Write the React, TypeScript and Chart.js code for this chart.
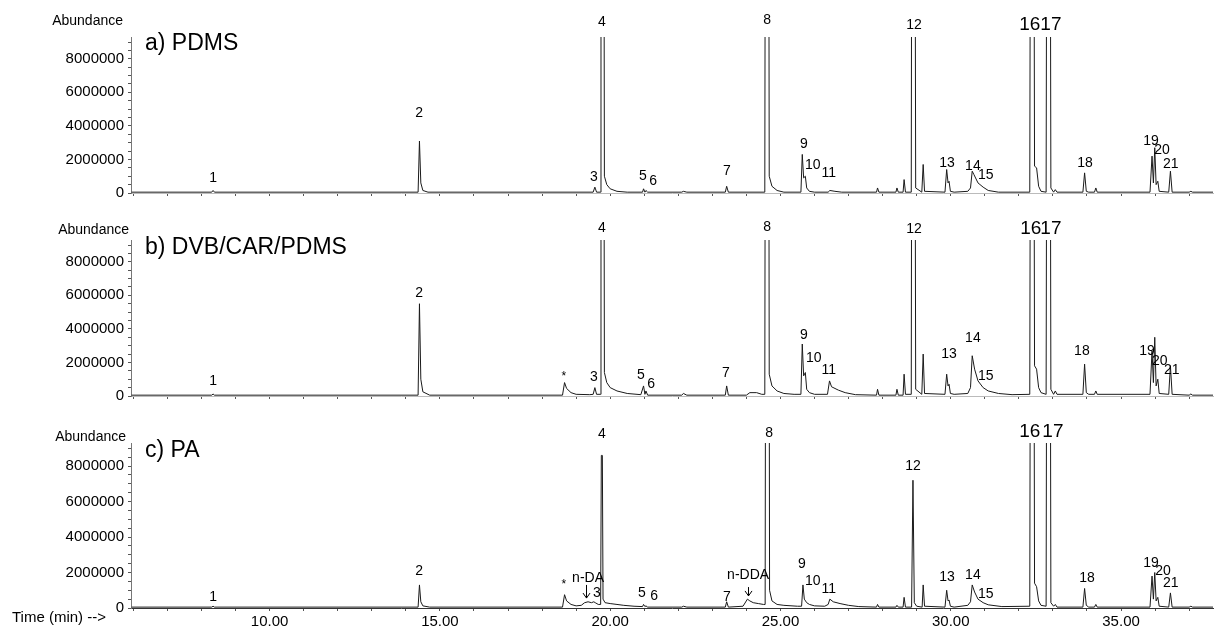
import React, { useEffect, useRef } from 'react';
import { Chart, registerables } from 'chart.js';

Chart.register(...registerables);
Chart.defaults.font.family = '"Liberation Sans", Arial, Helvetica, sans-serif';

// ---- axes ----
const xMin = 5.93;
const xMax = 37.7;
const xMinorTicks = [6, 7, 8, 9, 10, 11, 12, 13, 14, 15, 16, 17, 18, 19, 20, 21, 22, 23, 24, 25, 26, 27, 28, 29, 30, 31, 32, 33, 34, 35, 36, 37];
const xLabelTicks = [10, 15, 20, 25, 30, 35];
const yMaxM = 9.3; // millions
const yMinorTicks = [0, 0.5, 1, 1.5, 2, 2.5, 3, 3.5, 4, 4.5, 5, 5.5, 6, 6.5, 7, 7.5, 8, 8.5, 9];
const yLabelTicks = [0, 2, 4, 6, 8];
const yTickLabels = ['0', '2000000', '4000000', '6000000', '8000000'];

// ---- panel a) PDMS : trace (time min, abundance in millions) ----
const timesA = [5.95, 8.30, 8.34, 8.38, 14.36, 14.40, 14.44, 14.50, 14.65, 19.50, 19.55, 19.60, 19.71, 19.73, 19.80, 19.83, 19.90, 20.0, 20.2, 20.5, 20.95, 20.98, 21.02, 21.05, 21.10, 22.10, 22.15, 22.25, 23.38, 23.42, 23.47, 24.54, 24.57, 24.64, 24.67, 24.75, 24.9, 25.1, 25.60, 25.64, 25.68, 25.73, 25.77, 25.85, 26.0, 26.40, 26.45, 26.6, 26.8, 27.82, 27.85, 27.89, 28.39, 28.42, 28.46, 28.60, 28.63, 28.67, 28.84, 28.87, 28.93, 28.97, 29.15, 29.19, 29.23, 29.83, 29.88, 29.92, 29.95, 29.99, 30.1, 30.5, 30.58, 30.63, 30.68, 30.80, 30.95, 31.1, 31.4, 32.32, 32.36, 32.42, 32.46, 32.52, 32.58, 32.65, 32.80, 32.84, 32.90, 32.94, 33.02, 33.07, 33.12, 33.88, 33.93, 33.98, 34.05, 34.22, 34.26, 34.30, 35.85, 35.91, 35.95, 35.99, 36.03, 36.08, 36.12, 36.40, 36.45, 36.50, 37.0, 37.05, 37.1, 37.7];
const valsA = [0.05, 0.05, 0.15, 0.05, 0.05, 3.1, 0.6, 0.15, 0.05, 0.05, 0.35, 0.05, 0.05, 40, 40, 1.0, 0.5, 0.25, 0.1, 0.05, 0.05, 0.25, 0.05, 0.15, 0.05, 0.05, 0.1, 0.05, 0.05, 0.4, 0.05, 0.05, 40, 40, 1.0, 0.4, 0.15, 0.05, 0.05, 2.3, 0.9, 1.0, 0.3, 0.1, 0.05, 0.05, 0.15, 0.1, 0.05, 0.05, 0.3, 0.05, 0.05, 0.3, 0.05, 0.05, 0.8, 0.05, 0.05, 40, 40, 0.3, 0.05, 1.7, 0.1, 0.05, 1.4, 0.6, 0.7, 0.1, 0.05, 0.1, 0.3, 1.3, 1.1, 0.6, 0.35, 0.15, 0.05, 0.05, 40, 40, 1.6, 1.5, 0.4, 0.1, 0.05, 40, 40, 0.3, 0.05, 0.2, 0.05, 0.05, 1.2, 0.1, 0.05, 0.05, 0.3, 0.05, 0.05, 2.2, 0.6, 2.7, 0.5, 0.7, 0.1, 0.05, 1.3, 0.05, 0.05, 0.1, 0.05, 0.05];
const labelsA = ['1', '2', '3', '4', '5', '6', '7', '8', '9', '10', '11', '12', '13', '14', '15', '16', '17', '18', '19', '20', '21'];
const labelTimesA = [8.34, 14.39, 19.52, 19.76, 20.96, 21.26, 23.43, 24.61, 25.69, 25.95, 26.42, 28.92, 29.89, 30.65, 31.03, 32.32, 32.94, 33.94, 35.88, 36.20, 36.46];
const labelValsA = [0.90, 4.79, 0.96, 10.2, 1.01, 0.73, 1.30, 10.31, 2.93, 1.69, 1.18, 10.03, 1.80, 1.58, 1.07, 10.03, 10.03, 1.80, 3.10, 2.54, 1.75];

// ---- panel b) DVB/CAR/PDMS ----
const timesB = [5.95, 8.30, 8.34, 8.38, 14.36, 14.40, 14.44, 14.50, 14.7, 18.60, 18.66, 18.72, 18.85, 19.0, 19.4, 19.50, 19.55, 19.60, 19.71, 19.73, 19.80, 19.83, 19.90, 20.0, 20.2, 20.5, 20.9, 20.98, 21.02, 21.05, 21.10, 22.1, 22.15, 22.25, 23.38, 23.42, 23.47, 24.0, 24.1, 24.3, 24.45, 24.54, 24.57, 24.64, 24.67, 24.75, 24.9, 25.1, 25.4, 25.60, 25.64, 25.68, 25.73, 25.77, 25.85, 26.0, 26.38, 26.44, 26.5, 26.7, 26.9, 27.2, 27.82, 27.85, 27.89, 28.39, 28.42, 28.46, 28.60, 28.63, 28.67, 28.84, 28.87, 28.93, 28.97, 29.15, 29.19, 29.23, 29.83, 29.88, 29.92, 29.95, 29.99, 30.1, 30.5, 30.58, 30.63, 30.70, 30.80, 30.95, 31.1, 31.4, 31.8, 32.32, 32.36, 32.42, 32.46, 32.52, 32.58, 32.65, 32.80, 32.84, 32.90, 32.94, 33.02, 33.07, 33.12, 33.88, 33.93, 33.98, 34.05, 34.22, 34.26, 34.30, 35.85, 35.91, 35.95, 35.99, 36.03, 36.08, 36.12, 36.40, 36.45, 36.50, 37.0, 37.05, 37.1, 37.7];
const valsB = [0.05, 0.05, 0.12, 0.05, 0.05, 5.5, 1.0, 0.25, 0.05, 0.05, 0.8, 0.45, 0.2, 0.1, 0.08, 0.1, 0.5, 0.1, 0.1, 40, 40, 1.4, 0.8, 0.5, 0.3, 0.15, 0.08, 0.6, 0.1, 0.3, 0.05, 0.05, 0.15, 0.05, 0.05, 0.6, 0.05, 0.05, 0.2, 0.2, 0.1, 0.1, 40, 40, 1.3, 0.6, 0.3, 0.15, 0.1, 0.1, 3.1, 1.2, 1.4, 0.4, 0.2, 0.1, 0.1, 0.9, 0.55, 0.35, 0.2, 0.08, 0.05, 0.4, 0.05, 0.05, 0.4, 0.05, 0.05, 1.3, 0.1, 0.1, 40, 40, 0.4, 0.1, 2.5, 0.15, 0.1, 1.3, 0.6, 0.7, 0.15, 0.1, 0.15, 0.5, 2.4, 1.6, 0.9, 0.5, 0.3, 0.15, 0.08, 0.1, 40, 40, 1.8, 1.6, 0.5, 0.2, 0.1, 40, 40, 0.4, 0.1, 0.3, 0.1, 0.1, 1.9, 0.2, 0.1, 0.1, 0.3, 0.1, 0.1, 2.7, 0.8, 3.5, 0.6, 1.0, 0.15, 0.1, 1.8, 0.1, 0.05, 0.12, 0.05, 0.05];
const labelsB = ['1', '2', '*', '3', '4', '5', '6', '7', '8', '9', '10', '11', '12', '13', '14', '15', '16', '17', '18', '19', '20', '21'];
const labelTimesB = [8.34, 14.39, 18.64, 19.52, 19.76, 20.90, 21.20, 23.40, 24.61, 25.69, 25.98, 26.42, 28.92, 29.95, 30.65, 31.03, 32.35, 32.94, 33.85, 35.76, 36.14, 36.49];
const labelValsB = [0.90, 6.14, 1.18, 1.13, 10.03, 1.24, 0.68, 1.35, 10.08, 3.61, 2.25, 1.52, 9.97, 2.48, 3.44, 1.18, 9.97, 9.97, 2.65, 2.70, 2.08, 1.52];

// ---- panel c) PA ----
const timesC = [5.95, 8.30, 8.34, 8.38, 14.36, 14.40, 14.44, 14.50, 14.7, 18.60, 18.66, 18.72, 18.85, 19.0, 19.15, 19.25, 19.35, 19.45, 19.52, 19.56, 19.65, 19.72, 19.74, 19.77, 19.79, 19.85, 20.0, 20.2, 20.4, 20.7, 20.95, 20.98, 21.02, 21.05, 21.1, 22.1, 22.15, 22.25, 23.38, 23.42, 23.47, 23.9, 24.03, 24.1, 24.2, 24.35, 24.5, 24.55, 24.58, 24.65, 24.68, 24.75, 24.9, 25.1, 25.5, 25.62, 25.66, 25.70, 25.77, 25.85, 26.0, 26.3, 26.40, 26.45, 26.55, 26.75, 27.0, 27.3, 27.82, 27.85, 27.89, 28.39, 28.42, 28.46, 28.60, 28.63, 28.67, 28.85, 28.89, 28.93, 29.0, 29.16, 29.19, 29.23, 29.83, 29.88, 29.92, 29.95, 29.99, 30.1, 30.5, 30.58, 30.63, 30.70, 30.80, 30.95, 31.1, 31.5, 32.32, 32.36, 32.42, 32.46, 32.52, 32.58, 32.65, 32.80, 32.84, 32.90, 32.94, 33.02, 33.07, 33.12, 33.88, 33.93, 33.98, 34.05, 34.22, 34.26, 34.30, 35.85, 35.91, 35.95, 35.99, 36.03, 36.08, 36.12, 36.40, 36.45, 36.50, 37.0, 37.05, 37.1, 37.7];
const valsC = [0.05, 0.05, 0.1, 0.05, 0.05, 1.3, 0.35, 0.12, 0.05, 0.05, 0.75, 0.4, 0.2, 0.12, 0.15, 0.3, 0.35, 0.3, 0.35, 0.3, 0.2, 0.2, 8.6, 8.6, 0.5, 0.3, 0.25, 0.2, 0.15, 0.1, 0.08, 0.2, 0.08, 0.12, 0.05, 0.05, 0.1, 0.05, 0.05, 0.35, 0.05, 0.1, 0.5, 0.4, 0.3, 0.25, 0.2, 0.2, 40, 40, 1.0, 0.4, 0.2, 0.15, 0.1, 0.1, 1.3, 0.5, 0.3, 0.2, 0.12, 0.1, 0.2, 0.5, 0.35, 0.25, 0.15, 0.08, 0.05, 0.2, 0.05, 0.05, 0.15, 0.05, 0.05, 0.6, 0.05, 0.05, 7.2, 0.3, 0.1, 0.05, 1.3, 0.1, 0.05, 1.0, 0.4, 0.45, 0.1, 0.05, 0.15, 0.35, 1.3, 0.9, 0.5, 0.3, 0.18, 0.08, 0.1, 40, 40, 1.4, 1.2, 0.4, 0.15, 0.1, 40, 40, 0.3, 0.1, 0.2, 0.05, 0.05, 1.1, 0.15, 0.05, 0.05, 0.2, 0.05, 0.05, 1.8, 0.5, 2.0, 0.4, 0.6, 0.1, 0.05, 0.85, 0.05, 0.05, 0.1, 0.05, 0.05];
const labelsC = ['1', '2', '*', 'n-DA', '3', '4', '5', '6', '7', 'n-DDA', '8', '9', '10', '11', '12', '13', '14', '15', '16', '17', '18', '19', '20', '21'];
const labelTimesC = [8.34, 14.39, 18.64, 19.35, 19.61, 19.76, 20.93, 21.29, 23.43, 24.05, 24.67, 25.63, 25.95, 26.42, 28.89, 29.89, 30.65, 31.03, 32.32, 33.0, 34.0, 35.88, 36.23, 36.46];
const labelValsC = [0.62, 2.08, 1.30, 1.69, 0.85, 9.80, 0.85, 0.68, 0.62, 1.86, 9.86, 2.48, 1.52, 1.07, 8.0, 1.75, 1.86, 0.79, 9.92, 9.92, 1.69, 2.54, 2.08, 1.41];
const arrowTimesC = [19.29, 24.05];
const arrowFromC = [1.30, 1.18];
const arrowToC = [0.56, 0.68];

const bigLabels = ['16', '17'];

type PanelProps = {
  times: number[];
  vals: number[];
  labels: string[];
  labelTimes: number[];
  labelVals: number[];
  title: string;
  top: number;
  height: number;
  abundanceRight: number;
  abundanceY: number;
  titleY: number;
  showXLabels: boolean;
  arrowTimes?: number[];
  arrowFrom?: number[];
  arrowTo?: number[];
};

const FONT = '"Liberation Sans", Arial, Helvetica, sans-serif';

function Panel(p: PanelProps) {
  const ref = useRef<HTMLCanvasElement | null>(null);
  useEffect(() => {
    if (!ref.current) return;
    const annot = {
      id: 'annot',
      afterDraw(chart: any) {
        const { ctx } = chart;
        const x = chart.scales.x;
        const y = chart.scales.y;
        ctx.save();
        ctx.fillStyle = '#000';
        ctx.textAlign = 'center';
        ctx.textBaseline = 'middle';
        p.labels.forEach((lab, i) => {
          const px = x.getPixelForValue(p.labelTimes[i]);
          const py = y.getPixelForValue(p.labelVals[i]);
          let size = 14;
          if (bigLabels.includes(lab)) size = 19;
          if (lab === '*') size = 12;
          ctx.font = `${size}px ${FONT}`;
          ctx.fillText(lab, px, py);
        });
        if (p.arrowTimes) {
          ctx.strokeStyle = '#000';
          ctx.lineWidth = 1;
          p.arrowTimes.forEach((t, i) => {
            const ax = Math.round(x.getPixelForValue(t)) + 0.5;
            const y1 = y.getPixelForValue(p.arrowFrom![i]);
            const y2 = y.getPixelForValue(p.arrowTo![i]);
            ctx.beginPath();
            ctx.moveTo(ax, y1);
            ctx.lineTo(ax, y2);
            ctx.moveTo(ax - 3.5, y2 - 5);
            ctx.lineTo(ax, y2);
            ctx.lineTo(ax + 3.5, y2 - 5);
            ctx.stroke();
          });
        }
        // panel title
        ctx.textAlign = 'left';
        ctx.font = `23px ${FONT}`;
        ctx.fillText(p.title, 145, p.titleY);
        // Abundance
        ctx.textAlign = 'right';
        ctx.font = `14px ${FONT}`;
        ctx.fillText('Abundance', p.abundanceRight, p.abundanceY);
        if (p.showXLabels) {
          ctx.textAlign = 'left';
          ctx.font = `15px ${FONT}`;
          ctx.fillText('Time (min) -->', 12, 212);
        }
        ctx.restore();
      },
    };

    const tickColor = '#555';
    const chart = new Chart(ref.current, {
      type: 'line',
      data: {
        datasets: [
          {
            data: p.times.map((t, i) => ({ x: t, y: p.vals[i] })),
            borderColor: '#1a1a1a',
            borderWidth: 1,
            pointRadius: 0,
            tension: 0,
            fill: false,
          },
        ],
      },
      options: {
        animation: false,
        responsive: false,
        maintainAspectRatio: false,
        layout: { padding: { top: 37, right: 2, left: 0, bottom: 0 } },
        plugins: { legend: { display: false }, tooltip: { enabled: false }, title: { display: false } },
        scales: {
          x: {
            type: 'linear',
            min: xMin,
            max: xMax,
            afterBuildTicks: (s: any) => {
              s.ticks = xMinorTicks.map((v) => ({ value: v }));
            },
            afterFit: (s: any) => {
              s.height = p.showXLabels ? 20 : 4;
              s.paddingLeft = 0;
              s.paddingRight = 0;
            },
            ticks: {
              display: p.showXLabels,
              autoSkip: false,
              maxRotation: 0,
              padding: 2,
              color: '#000',
              font: { size: 15, family: FONT },
              callback: (v: any) => (xLabelTicks.includes(Number(v)) ? Number(v).toFixed(2) : ''),
            },
            grid: { drawOnChartArea: false, tickLength: 3, color: tickColor },
            border: { display: true, color: p.showXLabels ? '#333' : '#bbb' },
          },
          y: {
            type: 'linear',
            min: 0,
            max: yMaxM,
            afterBuildTicks: (s: any) => {
              s.ticks = yMinorTicks.map((v) => ({ value: v }));
            },
            afterFit: (s: any) => {
              s.width = 131;
            },
            ticks: {
              autoSkip: false,
              padding: 4,
              color: '#000',
              font: { size: 15, family: FONT },
              callback: (v: any) => {
                const idx = yLabelTicks.indexOf(Number(v));
                return idx >= 0 ? yTickLabels[idx] : '';
              },
            },
            grid: { drawOnChartArea: false, tickLength: 3, color: tickColor },
            border: { display: true, color: '#777' },
          },
        },
      },
      plugins: [annot],
    });
    return () => chart.destroy();
  }, []);
  return (
    <canvas
      ref={ref}
      width={1215}
      height={p.height}
      style={{ position: 'absolute', left: 0, top: p.top, width: 1215, height: p.height }}
    />
  );
}

export default function App() {
  return (
    <div style={{ position: 'fixed', left: 0, top: 0, width: 1215, height: 628, background: '#fff', overflow: 'hidden' }}>
      <Panel times={timesA} vals={valsA} labels={labelsA} labelTimes={labelTimesA} labelVals={labelValsA}
        title="a) PDMS" top={0} height={206} abundanceRight={123} abundanceY={21} titleY={44} showXLabels={false} />
      <Panel times={timesB} vals={valsB} labels={labelsB} labelTimes={labelTimesB} labelVals={labelValsB}
        title="b) DVB/CAR/PDMS" top={203} height={206} abundanceRight={129} abundanceY={27} titleY={45} showXLabels={false} />
      <Panel times={timesC} vals={valsC} labels={labelsC} labelTimes={labelTimesC} labelVals={labelValsC}
        title="c) PA" top={406} height={222} abundanceRight={126} abundanceY={31} titleY={45} showXLabels={true}
        arrowTimes={arrowTimesC} arrowFrom={arrowFromC} arrowTo={arrowToC} />
    </div>
  );
}
